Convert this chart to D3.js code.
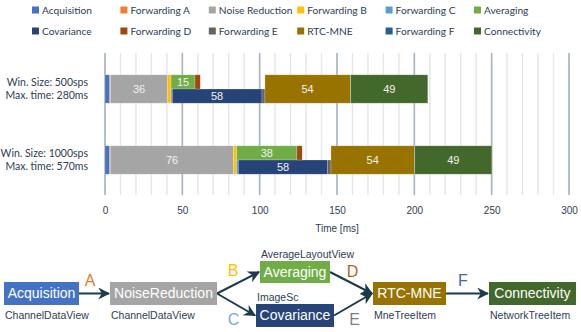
<!DOCTYPE html>
<html>
<head>
<meta charset="utf-8">
<script src="https://cdn.jsdelivr.net/npm/d3@7"></script>
<style>
  body { margin: 0; background: #fff; }
  svg { display: block; }
</style>
</head>
<body>
<div id="chart"></div>
<script>
// ---- data ----
const categories = [
    ['Win. Size: 500sps', 'Max. time: 280ms'],
    ['Win. Size: 1000sps', 'Max. time: 570ms']
]
const stages = ['Acquisition', 'Forwarding A', 'Noise Reduction', 'Forwarding B', 'Forwarding C', 'Averaging',
    'Covariance', 'Forwarding D', 'Forwarding E', 'RTC-MNE', 'Forwarding F', 'Connectivity']
// which half of the bar a stage runs in (the pipeline splits after Forwarding B)
const lanes = ['full', 'full', 'full', 'full', 'bottom', 'top', 'bottom', 'top', 'bottom', 'full', 'full', 'full']
const colors = ['#4472C4', '#ED7D31', '#A5A5A5', '#FFC000', '#5B9BD5', '#70AD47',
    '#264478', '#9E480E', '#636363', '#997300', '#255E91', '#43682B']
const durations500 = [3.0, 0.5, 37.0, 2.2, 0.8, 15.5, 58.0, 3.4, 1.9, 55.2, 0.3, 49.8]
const durations1000 = [3.0, 0.7, 79.3, 2.1, 1.1, 39.0, 57.8, 3.4, 2.1, 53.9, 0.3, 49.8]
const labels500 = ['', '', '36', '', '', '15', '58', '', '', '54', '', '49']
const labels1000 = ['', '', '76', '', '', '38', '58', '', '', '54', '', '49']
const xTicks = [0, 50, 100, 150, 200, 250, 300]

// pipeline diagram
const nodeNames = ['Acquisition', 'NoiseReduction', 'Averaging', 'Covariance', 'RTC-MNE', 'Connectivity']
const nodeViews = ['ChannelDataView', 'ChannelDataView', 'AverageLayoutView', 'ImageSc', 'MneTreeItem', 'NetworkTreeItem']
const nodeColors = ['#4472C4', '#A5A5A5', '#70AD47', '#264478', '#997300', '#43682B']
const edgeLetters = ['A', 'B', 'C', 'D', 'E', 'F']
const edgeLinks = [[0, 1], [1, 2], [1, 3], [2, 4], [3, 4], [4, 5]]
const edgeColors = ['#E07B2A', '#FFC000', '#7EA6E0', '#B0651F', '#7F7F7F', '#4466A8']

// ---- chart ----
const Width = 581
const Height = 332
const textColor = '#2E4053'

const svg = d3.select('#chart').append('svg')
    .attr('width', Width)
    .attr('height', Height)

const x = d3.scaleLinear().domain([0, 300]).range([105, 569])
const y = d3.scaleBand()
    .domain(categories.map((d, i) => i))
    .range([53.5, 195.5])
    .paddingInner(0.6)
    .paddingOuter(0.3)

// legend
const legend = svg.append('g')
stages.forEach((s, i) => {
    const lx = 32 + (i % 6) * 88.4
    const ly = i < 6 ? 10 : 31
    const g = legend.append('g').attr('transform', `translate(${lx},${ly})`)
    g.append('rect').attr('x', 0).attr('y', -3.5).attr('width', 7).attr('height', 7).attr('fill', colors[i])
    g.append('text').attr('x', 10).attr('y', 0).attr('dy', '0.35em')
        .attr('font-family', 'Lato, sans-serif').attr('font-size', 10.2)
        .attr('fill', textColor).text(s)
})

// grid
const minor = d3.range(0, 301, 10)
svg.append('g').selectAll('line')
    .data(minor)
    .enter().append('line')
    .attr('x1', d => x(d)).attr('x2', d => x(d))
    .attr('y1', 53).attr('y2', 195)
    .attr('stroke', d => d % 50 === 0 ? '#A3B1BC' : '#E1E7EB')
    .attr('stroke-width', d => d % 50 === 0 ? 1.6 : 1.4)

// axis
const xAxisCall = d3.axisBottom(x).tickValues(xTicks).tickSize(0).tickPadding(3)
const xAxis = svg.append('g').attr('transform', 'translate(0,204)').call(xAxisCall)
xAxis.select('.domain').remove()
xAxis.selectAll('text')
    .attr('font-family', 'Liberation Sans, Arial, sans-serif')
    .attr('font-size', 10)
    .attr('fill', textColor)
svg.append('text')
    .attr('x', x(150)).attr('y', 228).attr('dy', '0.35em')
    .attr('text-anchor', 'middle')
    .attr('font-family', 'Liberation Sans, Arial, sans-serif')
    .attr('font-size', 10)
    .attr('fill', textColor)
    .text('Time [ms]')

// category labels
categories.forEach((c, i) => {
    const cy = y(i) + y.bandwidth() / 2
    c.forEach((line, j) => {
        svg.append('text')
            .attr('x', 88).attr('y', cy + (j === 0 ? -6.5 : 6.5)).attr('dy', '0.35em')
            .attr('text-anchor', 'end')
            .attr('font-family', 'Lato, sans-serif').attr('font-size', 10.5)
            .attr('fill', textColor).text(line)
    })
})

// stack the stages: full-height stages wait for both halves
function layout(durs, labels) {
    let top = 0, bot = 0
    return durs.map((d, i) => {
        const lane = lanes[i]
        let start
        if (lane === 'full') { start = Math.max(top, bot); top = bot = start + d }
        else if (lane === 'top') { start = top; top += d }
        else { start = bot; bot += d }
        return { i, start, d, lane, label: labels[i] }
    })
}

const rows = [layout(durations500, labels500), layout(durations1000, labels1000)]

rows.forEach((segs, r) => {
    const bw = y.bandwidth()
    const g = svg.append('g')
    const yy = s => s.lane === 'bottom' ? y(r) + bw / 2 : y(r)
    const hh = s => s.lane === 'full' ? bw : bw / 2

    g.selectAll('rect')
        .data(segs)
        .enter().append('rect')
        .attr('x', s => x(s.start))
        .attr('y', yy)
        .attr('width', s => x(s.start + s.d) - x(s.start))
        .attr('height', hh)
        .attr('fill', s => colors[s.i])
        .attr('stroke', 'rgba(255,255,255,0.35)')
        .attr('stroke-width', 0.6)

    g.selectAll('text')
        .data(segs.filter(s => s.label))
        .enter().append('text')
        .attr('x', s => x(s.start + s.d / 2))
        .attr('y', s => yy(s) + hh(s) / 2)
        .attr('dy', '0.35em')
        .attr('text-anchor', 'middle')
        .attr('font-family', 'Liberation Sans, Arial, sans-serif')
        .attr('font-size', 11)
        .attr('fill', '#F2F2F2')
        .text(s => s.label)
})

// ---- pipeline diagram ----
const boxes = [
    { x: 4, y: 282, w: 75, h: 23, below: true },
    { x: 110, y: 282, w: 107, h: 23, below: true },
    { x: 260, y: 261, w: 70, h: 22, below: false },
    { x: 256, y: 304, w: 78, h: 23, below: false },
    { x: 373, y: 282, w: 73, h: 23, below: true },
    { x: 489, y: 282, w: 87, h: 23, below: true }
]
const letterPos = [[90, 280], [233, 270], [233.5, 319], [352.5, 271], [354.5, 319], [463, 280]]

const arrowColor = '#1B3A4B'
svg.append('defs').append('marker')
    .attr('id', 'head')
    .attr('viewBox', '0 0 10 10')
    .attr('refX', 9).attr('refY', 5)
    .attr('markerWidth', 6).attr('markerHeight', 6)
    .attr('markerUnits', 'strokeWidth')
    .attr('orient', 'auto')
    .append('path').attr('d', 'M0,0 L10,5 L0,10 L3,5 Z').attr('fill', arrowColor)

const diagram = svg.append('g')

edgeLinks.forEach(([a, b], i) => {
    const A = boxes[a], B = boxes[b]
    diagram.append('line')
        .attr('x1', A.x + A.w).attr('y1', A.y + A.h / 2)
        .attr('x2', B.x - 1).attr('y2', B.y + B.h / 2)
        .attr('stroke', arrowColor).attr('stroke-width', 2)
        .attr('marker-end', 'url(#head)')
    diagram.append('text')
        .attr('x', letterPos[i][0]).attr('y', letterPos[i][1]).attr('dy', '0.35em')
        .attr('text-anchor', 'middle')
        .attr('font-family', 'Liberation Sans, Arial, sans-serif')
        .attr('font-size', 16)
        .attr('fill', edgeColors[i])
        .text(edgeLetters[i])
})

boxes.forEach((b, i) => {
    diagram.append('rect')
        .attr('x', b.x).attr('y', b.y).attr('width', b.w).attr('height', b.h)
        .attr('fill', nodeColors[i])
    diagram.append('text')
        .attr('x', b.x + b.w / 2).attr('y', b.y + b.h / 2).attr('dy', '0.35em')
        .attr('text-anchor', 'middle')
        .attr('font-family', 'Liberation Sans, Arial, sans-serif')
        .attr('font-size', 14)
        .attr('fill', '#FFFFFF')
        .text(nodeNames[i])
    diagram.append('text')
        .attr('x', b.x + 1).attr('y', b.below ? b.y + b.h + 10 : b.y - 7).attr('dy', '0.35em')
        .attr('font-family', 'Liberation Sans, Arial, sans-serif')
        .attr('font-size', 10.5)
        .attr('fill', textColor)
        .text(nodeViews[i])
})
</script>
</body>
</html>
